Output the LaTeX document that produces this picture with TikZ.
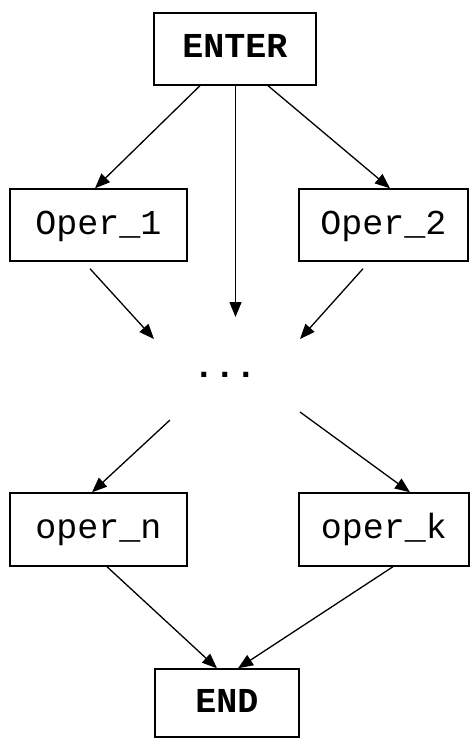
\documentclass[tikz,border=0pt]{standalone}
\usepackage{fontspec}
\setmonofont{Liberation Mono}
\usetikzlibrary{arrows.meta,calc}
\begin{document}
\begin{tikzpicture}[x=1pt,y=-1pt,
  label text/.style={inner sep=0pt,text height=24pt,text depth=6pt,font=\fontsize{35}{40}\selectfont\ttfamily},
  box/.style={label text,draw,line width=1.4pt},
  boldbox/.style={box,font=\fontsize{35}{40}\selectfont\ttfamily\bfseries},
  flow/.style={line width=1.3pt,-{Triangle[length=15pt,width=12pt]}}]
\useasboundingbox[fill=white] (0,0) rectangle (470,738);
% operation boxes
\node[boldbox,minimum width=162pt,minimum height=72pt] (enter) at (235,49) {ENTER};
\node[box,minimum width=177pt,minimum height=72pt] (op1) at (98.5,225) {Oper\_1};
\node[box,minimum width=169pt,minimum height=72pt] (op2) at (383.5,225) {Oper\_2};
\node[label text,font=\fontsize{35}{40}\selectfont\ttfamily\bfseries] (dots) at (225,368) {...};
\node[box,minimum width=177pt,minimum height=73pt] (opn) at (98.5,529.5) {oper\_n};
\node[box,minimum width=170pt,minimum height=73pt] (opk) at (384,529.5) {oper\_k};
\node[boldbox,minimum width=144pt,minimum height=68pt] (end) at (227,703) {END};
% free ends around the ellipsis
\coordinate (inL) at (154,339);
\coordinate (inM) at (235.5,317);
\coordinate (inR) at (300,339);
\coordinate (outL) at (170,420);
\coordinate (outR) at (300,412);
% connectors
\draw[flow] ($(enter.south)+(-35,0)$) -- ($(op1.north)+(-3.5,0)$);
\draw[flow] ($(enter.south)+(0.5,0)$) -- (inM);
\draw[flow] ($(enter.south)+(33,0)$) -- ($(op2.north)+(6.5,0)$);
\draw[flow] ($(op1.south)+(-8.5,7)$) -- (inL);
\draw[flow] ($(op2.south)+(-20.5,7)$) -- (inR);
\draw[flow] (outL) -- ($(opn.north)+(-6.5,0)$);
\draw[flow] (outR) -- ($(opk.north)+(26,0)$);
\draw[flow] ($(opn.south)+(8.5,0)$) -- ($(end.north)+(-10,0)$);
\draw[flow] ($(opk.south)+(9,0)$) -- ($(end.north)+(11,0)$);
\end{tikzpicture}
\end{document}
